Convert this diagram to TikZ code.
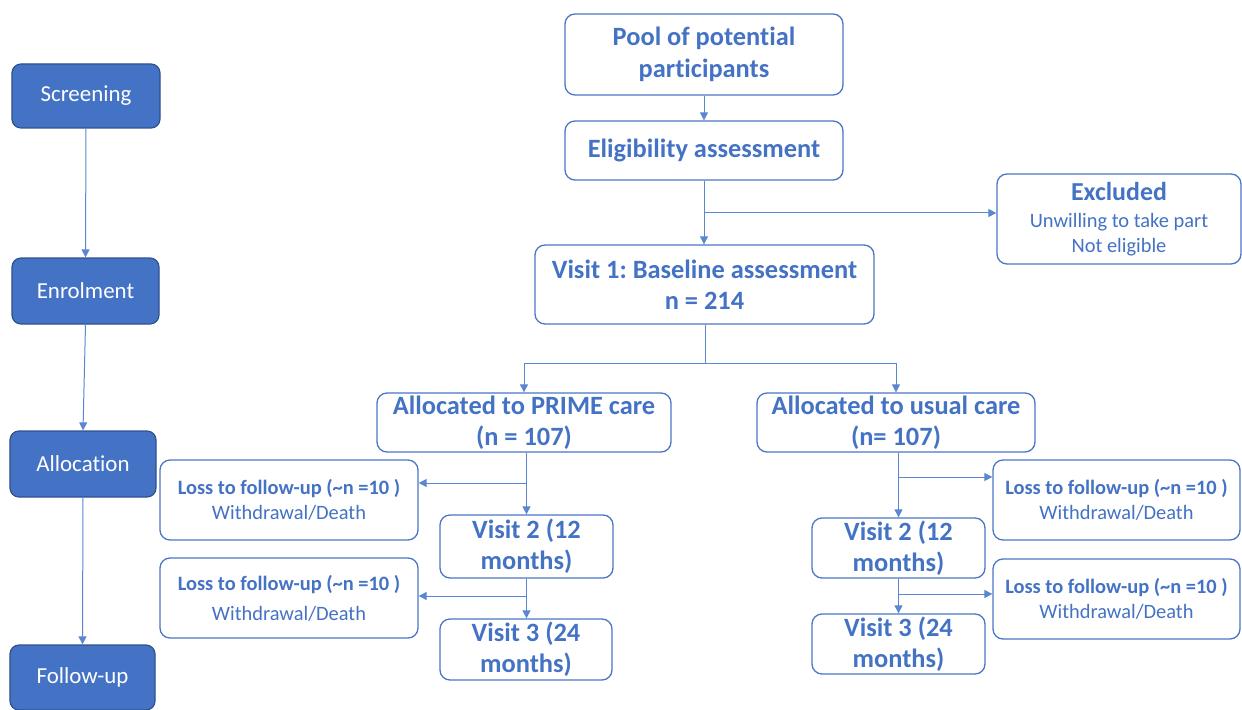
\documentclass[tikz,border=0pt]{standalone}
\usepackage{fontspec}
\setmainfont{Carlito}[Ligatures=NoCommon]
\frenchspacing
\usetikzlibrary{arrows.meta}
\definecolor{txtblue}{HTML}{4472C4}
\definecolor{boxblue}{HTML}{4A76C6}
\definecolor{stagefill}{HTML}{4472C4}
\definecolor{stageedge}{HTML}{2F528F}
\definecolor{linkblue}{HTML}{5B87D2}
\tikzset{
  box/.style={draw=boxblue, line width=1.3bp, rounded corners=10bp, fill=white, text=txtblue, align=center, inner sep=0pt},
  stage/.style={draw=stageedge, line width=1.2bp, rounded corners=9bp, fill=stagefill, text=white, align=center, inner sep=0pt, font=\fontsize{23}{28}\selectfont},
  big/.style={font=\fontsize{26.5}{31.5}\selectfont\bfseries},
  small/.style={font=\fontsize{20.5}{25}\selectfont},
  smallwide/.style={font=\fontsize{20.5}{30}\selectfont},
  link/.style={draw=linkblue, line width=1bp},
  arr/.style={link, -{Triangle[length=8bp,width=8bp]}}
}
\begin{document}
\begin{tikzpicture}[x=1bp,y=-1bp]
\useasboundingbox (0,0) rectangle (1242,710);
% stages
\node[stage, minimum width=148bp, minimum height=64bp] (scr) at (86,96) {\raisebox{-2.5bp}{Screening}};
\node[stage, minimum width=147bp, minimum height=66bp] (enr) at (85.5,291) {\raisebox{-2.5bp}{Enrolment}};
\node[stage, minimum width=146bp, minimum height=66bp] (alc) at (83,464) {\raisebox{-2.5bp}{Allocation}};
\node[stage, minimum width=145bp, minimum height=65bp] (fol) at (82.5,677.5) {\raisebox{-2.5bp}{Follow-up}};
\draw[arr] (scr.south) -- (enr.north);
\draw[arr] (enr.south) -- (alc.north);
\draw[arr] (alc.south) -- (fol.north);
% main flow
\node[box, big, minimum width=278bp, minimum height=81bp] (pool) at (704,54.5) {\raisebox{-2bp}{Pool of potential}\\\raisebox{-2bp}{participants}};
\node[box, big, minimum width=278bp, minimum height=59bp] (elig) at (704,150.5) {\raisebox{-2bp}{Eligibility assessment}};
\node[box, small, minimum width=244bp, minimum height=90bp] (excl) at (1119,219) {{\fontsize{26}{28}\selectfont\bfseries Excluded}\\[2bp]Unwilling to take part\\Not eligible};
\node[box, big, minimum width=339bp, minimum height=79bp] (v1) at (704.5,284.5) {Visit 1: Baseline assessment\\n = 214};
\node[box, big, minimum width=294bp, minimum height=59bp] (prime) at (524,422.5) {Allocated to PRIME care\\(n = 107)};
\node[box, big, minimum width=278bp, minimum height=59bp] (usual) at (896,422.5) {Allocated to usual care\\(n= 107)};
% left arm
\node[box, small, minimum width=258bp, minimum height=80bp] (loss1) at (289,500) {\textbf{Loss to follow-up (\textasciitilde n =10 )}\\Withdrawal/Death};
\node[box, big, minimum width=173bp, minimum height=63bp] (v2l) at (526.5,546.5) {Visit 2 (12\\months)};
\node[box, smallwide, minimum width=258bp, minimum height=80bp] (loss2) at (289,598) {\textbf{Loss to follow-up (\textasciitilde n =10 )}\\Withdrawal/Death};
\node[box, big, minimum width=172bp, minimum height=61bp] (v3l) at (526,649.5) {Visit 3 (24\\months)};
% right arm
\node[box, small, minimum width=247bp, minimum height=80bp] (loss3) at (1116.5,500) {\textbf{Loss to follow-up (\textasciitilde n =10 )}\\Withdrawal/Death};
\node[box, big, minimum width=173bp, minimum height=60bp] (v2r) at (898.5,548) {Visit 2 (12\\months)};
\node[box, small, minimum width=247bp, minimum height=80bp] (loss4) at (1116.5,599) {\textbf{Loss to follow-up (\textasciitilde n =10 )}\\Withdrawal/Death};
\node[box, big, minimum width=173bp, minimum height=60bp] (v3r) at (898.5,644) {Visit 3 (24\\months)};
% connectors
\draw[arr] (pool.south) -- (elig.north);
\draw[arr] (elig.south) -- (v1.north -| elig.south);
\coordinate (bx) at (706,213);
\draw[arr] (bx -| elig.south) -- (bx -| excl.west);
\coordinate (sp) at (705,363);
\draw[link] (v1.south -| sp) -- (sp);
\draw[arr] (sp) -| (prime.north);
\draw[arr] (sp) -| (usual.north);
% PRIME arm
\draw[arr] (prime.south -| v2l.north) -- (v2l.north);
\coordinate (c1) at (526,483);
\draw[arr] (c1) -- (c1 -| loss1.east);
\draw[arr] (v2l.south) -- (v3l.north -| v2l.south);
\coordinate (c2) at (526,596);
\draw[arr] (c2) -- (c2 -| loss2.east);
% usual arm
\draw[arr] (usual.south -| v2r.north) -- (v2r.north);
\coordinate (c3) at (898,477);
\draw[arr] (c3) -- (c3 -| loss3.west);
\draw[arr] (v2r.south) -- (v3r.north);
\coordinate (c4) at (898,594);
\draw[arr] (c4) -- (c4 -| loss4.west);
\end{tikzpicture}
\end{document}
